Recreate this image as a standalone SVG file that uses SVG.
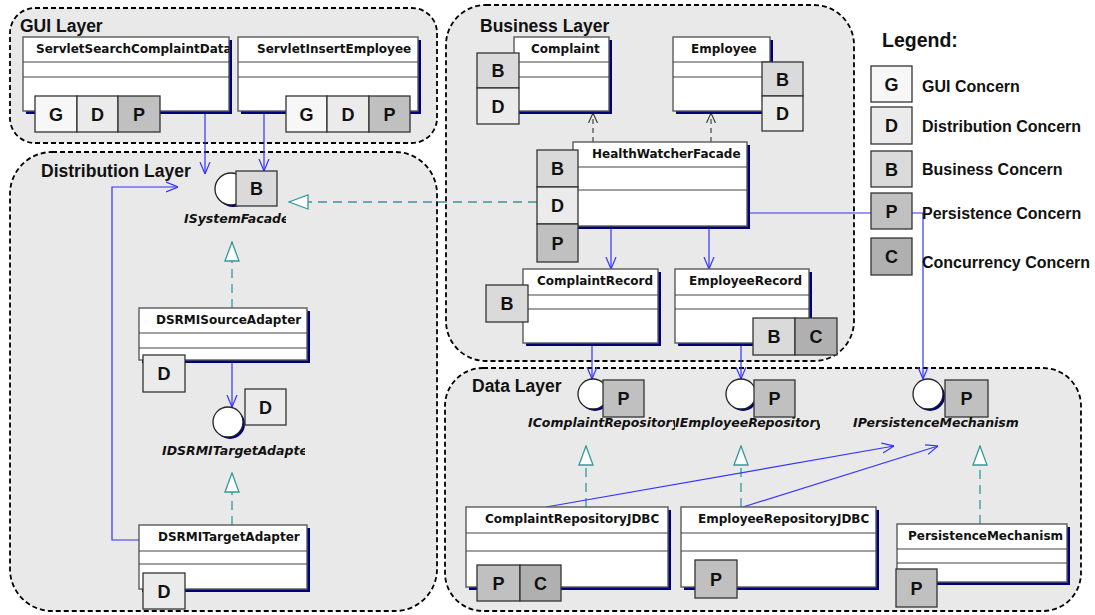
<svg xmlns="http://www.w3.org/2000/svg" width="1095" height="615" viewBox="0 0 1095 615">
<style>
.lay{fill:#e9e9e9;stroke:#000;stroke-width:1.8;stroke-dasharray:5,3}
.lt{font-family:"Liberation Sans",Arial,sans-serif;font-weight:bold;font-size:17.5px;fill:#111}
.sh{fill:#00007a}
.cb{fill:#fff;stroke:#5a5a5a;stroke-width:1.4}
.sep{stroke:#444;stroke-width:1.1}
.cn{font-family:"DejaVu Sans",Verdana,sans-serif;font-weight:bold;font-size:12px;fill:#111}
.k{stroke:#333;stroke-width:1.3}
.kt{font-family:"Liberation Sans",Arial,sans-serif;font-weight:bold;font-size:18px;fill:#111;text-anchor:middle}
.g{fill:#f7f7f7}.d{fill:#ebebeb}.b{fill:#dadada}.p{fill:#c0c0c0}.c{fill:#b0b0b0}
.ic{fill:#fff;stroke:#222;stroke-width:1.3}
.ish{fill:#00007a}
.il{font-family:"DejaVu Sans",Verdana,sans-serif;font-weight:bold;font-style:italic;font-size:12.5px;fill:#111}
.asc{fill:none;stroke:#3333ff;stroke-width:1.2}
.rea{fill:none;stroke:#339999;stroke-width:1.3;stroke-dasharray:9,6}
.dep{fill:none;stroke:#333;stroke-width:1.1;stroke-dasharray:5,4}
.leg{font-family:"Liberation Sans",Arial,sans-serif;font-weight:bold;font-size:16px;fill:#111}
</style>
<defs>
<marker id="aOpen" viewBox="0 0 12 12" refX="12" refY="6" markerWidth="12" markerHeight="12" markerUnits="userSpaceOnUse" orient="auto">
<path d="M0,1 L12,6 L0,11" fill="none" stroke="#3333ff" stroke-width="1.2"/>
</marker>
<marker id="aTri" viewBox="0 0 21 16" refX="20" refY="8" markerWidth="21" markerHeight="16" markerUnits="userSpaceOnUse" orient="auto">
<path d="M1,1 L20,8 L1,15 Z" fill="#fff" stroke="#339999" stroke-width="1.3"/>
</marker>
<marker id="aDep" viewBox="0 0 10 10" refX="10" refY="5" markerWidth="10" markerHeight="10" markerUnits="userSpaceOnUse" orient="auto">
<path d="M0,0.5 L10,5 L0,9.5" fill="none" stroke="#333" stroke-width="1.1"/>
</marker>
<clipPath id="cl1"><rect x="23" y="37" width="206" height="30"/></clipPath>
<clipPath id="cl2"><rect x="139" y="525" width="168" height="26"/></clipPath>
<clipPath id="cl3"><rect x="150" y="205" width="136" height="25"/></clipPath>
<clipPath id="cl4"><rect x="150" y="440" width="155" height="25"/></clipPath>
<clipPath id="cl5"><rect x="500" y="410" width="175" height="25"/></clipPath>
<clipPath id="cl6"><rect x="675" y="410" width="145" height="25"/></clipPath>
</defs>

<g id="layers">
<rect class="lay" x="10" y="8" width="427" height="135" rx="25"/>
<text class="lt" x="20" y="32">GUI Layer</text>
<rect class="lay" x="446" y="5" width="408" height="356" rx="40"/>
<text class="lt" x="480" y="32">Business Layer</text>
<rect class="lay" x="10" y="152" width="427" height="459" rx="42"/>
<text class="lt" x="41" y="177">Distribution Layer</text>
<rect class="lay" x="445" y="368" width="636" height="243" rx="38"/>
<text class="lt" x="472" y="392">Data Layer</text>
</g>

<g id="connectors">
<path class="asc" d="M205,111 V174" marker-end="url(#aOpen)"/>
<path class="asc" d="M264,111 V171" marker-end="url(#aOpen)"/>
<path class="asc" d="M139,540 H112 V187 H178" marker-end="url(#aOpen)"/>
<path class="rea" d="M537,202 H289" marker-end="url(#aTri)"/>
<path class="rea" d="M232,308 V242" marker-end="url(#aTri)"/>
<path class="asc" d="M232,360 V407" marker-end="url(#aOpen)"/>
<path class="rea" d="M232,525 V473" marker-end="url(#aTri)"/>
<path class="dep" d="M593,142 V113" marker-end="url(#aDep)"/>
<path class="dep" d="M711,142 V113" marker-end="url(#aDep)"/>
<path class="asc" d="M611,226 V269" marker-end="url(#aOpen)"/>
<path class="asc" d="M709,226 V269" marker-end="url(#aOpen)"/>
<path class="asc" d="M747,213 H923 V379" marker-end="url(#aOpen)"/>
<path class="asc" d="M592,343 V379" marker-end="url(#aOpen)"/>
<path class="asc" d="M741,343 V379" marker-end="url(#aOpen)"/>
<path class="rea" d="M586,507 V446" marker-end="url(#aTri)"/>
<path class="rea" d="M741,507 V446" marker-end="url(#aTri)"/>
<path class="rea" d="M980,524 V446" marker-end="url(#aTri)"/>
<path class="asc" d="M546,507 L894,446" marker-end="url(#aOpen)"/>
<path class="asc" d="M743,507 L938,446" marker-end="url(#aOpen)"/>
</g>

<g id="ServletSearchComplaintData">
<rect class="sh" x="26" y="40" width="206" height="74"/>
<rect class="cb" x="23" y="37" width="206" height="74"/>
<line class="sep" x1="23" y1="62" x2="229" y2="62"/><line class="sep" x1="23" y1="77" x2="229" y2="77"/>
<text class="cn" x="36" y="53" clip-path="url(#cl1)">ServletSearchComplaintData</text>
<rect class="k g" x="35" y="96" width="42" height="36"/><text class="kt" x="56" y="120.5">G</text>
<rect class="k d" x="77" y="96" width="41" height="36"/><text class="kt" x="97.5" y="120.5">D</text>
<rect class="k p" x="118" y="96" width="42" height="36"/><text class="kt" x="139" y="120.5">P</text>
</g>

<g id="ServletInsertEmployee">
<rect class="sh" x="241" y="40" width="180" height="74"/>
<rect class="cb" x="238" y="37" width="180" height="74"/>
<line class="sep" x1="238" y1="62" x2="418" y2="62"/><line class="sep" x1="238" y1="77" x2="418" y2="77"/>
<text class="cn" x="257" y="53">ServletInsertEmployee</text>
<rect class="k g" x="286" y="96" width="41" height="36"/><text class="kt" x="306.5" y="120.5">G</text>
<rect class="k d" x="327" y="96" width="42" height="36"/><text class="kt" x="348" y="120.5">D</text>
<rect class="k p" x="369" y="96" width="41" height="36"/><text class="kt" x="389.5" y="120.5">P</text>
</g>

<g id="Complaint">
<rect class="sh" x="517" y="40" width="95" height="74"/>
<rect class="cb" x="514" y="37" width="95" height="74"/>
<line class="sep" x1="514" y1="62" x2="609" y2="62"/><line class="sep" x1="514" y1="77" x2="609" y2="77"/>
<text class="cn" x="531" y="53">Complaint</text>
<rect class="k b" x="477" y="53" width="42" height="35"/><text class="kt" x="498" y="77">B</text>
<rect class="k d" x="477" y="88" width="42" height="36"/><text class="kt" x="498" y="112.5">D</text>
</g>

<g id="Employee">
<rect class="sh" x="676" y="40" width="97" height="74"/>
<rect class="cb" x="673" y="37" width="97" height="74"/>
<line class="sep" x1="673" y1="62" x2="770" y2="62"/><line class="sep" x1="673" y1="77" x2="770" y2="77"/>
<text class="cn" x="691" y="53">Employee</text>
<rect class="k b" x="762" y="62" width="41" height="34"/><text class="kt" x="782.5" y="85.5">B</text>
<rect class="k d" x="762" y="96" width="41" height="35"/><text class="kt" x="782.5" y="120">D</text>
</g>

<g id="HealthWatcherFacade">
<rect class="sh" x="576" y="145" width="174" height="84"/>
<rect class="cb" x="573" y="142" width="174" height="84"/>
<line class="sep" x1="573" y1="167" x2="747" y2="167"/><line class="sep" x1="573" y1="190" x2="747" y2="190"/>
<text class="cn" x="592" y="158">HealthWatcherFacade</text>
<rect class="k b" x="537" y="150" width="41" height="37"/><text class="kt" x="557.5" y="175">B</text>
<rect class="k d" x="537" y="187" width="41" height="37"/><text class="kt" x="557.5" y="212">D</text>
<rect class="k p" x="537" y="224" width="41" height="38"/><text class="kt" x="557.5" y="249.5">P</text>
</g>

<g id="ComplaintRecord">
<rect class="sh" x="526" y="272" width="135" height="74"/>
<rect class="cb" x="523" y="269" width="135" height="74"/>
<line class="sep" x1="523" y1="295" x2="658" y2="295"/><line class="sep" x1="523" y1="309" x2="658" y2="309"/>
<text class="cn" x="537" y="285">ComplaintRecord</text>
<rect class="k b" x="486" y="285" width="42" height="37"/><text class="kt" x="507" y="310">B</text>
</g>

<g id="EmployeeRecord">
<rect class="sh" x="678" y="272" width="134" height="74"/>
<rect class="cb" x="675" y="269" width="134" height="74"/>
<line class="sep" x1="675" y1="295" x2="809" y2="295"/><line class="sep" x1="675" y1="309" x2="809" y2="309"/>
<text class="cn" x="689" y="285">EmployeeRecord</text>
<rect class="k b" x="753" y="318" width="42" height="37"/><text class="kt" x="774" y="343">B</text>
<rect class="k c" x="795" y="318" width="42" height="37"/><text class="kt" x="816" y="343">C</text>
</g>

<g id="ISystemFacade">
<circle class="ish" cx="233" cy="191" r="16"/>
<circle class="ic" cx="231" cy="189" r="16"/>
<rect class="k b" x="236" y="171" width="41" height="35"/><text class="kt" x="256.5" y="195">B</text>
<text class="il" x="184" y="223" clip-path="url(#cl3)">ISystemFacade</text>
</g>

<g id="DSRMISourceAdapter">
<rect class="sh" x="142" y="311" width="168" height="52"/>
<rect class="cb" x="139" y="308" width="168" height="52"/>
<line class="sep" x1="139" y1="333" x2="307" y2="333"/><line class="sep" x1="139" y1="348" x2="307" y2="348"/>
<text class="cn" x="156" y="324">DSRMISourceAdapter</text>
<rect class="k d" x="143" y="355" width="42" height="37"/><text class="kt" x="164" y="380">D</text>
</g>

<g id="IDSRMITargetAdapter">
<circle class="ish" cx="230" cy="424" r="15"/>
<circle class="ic" cx="228" cy="422" r="15"/>
<rect class="k d" x="245" y="389" width="41" height="36"/><text class="kt" x="265.5" y="413.5">D</text>
<text class="il" x="162" y="455" clip-path="url(#cl4)">IDSRMITargetAdapter</text>
</g>

<g id="DSRMITargetAdapter">
<rect class="sh" x="142" y="528" width="168" height="64"/>
<rect class="cb" x="139" y="525" width="168" height="64"/>
<line class="sep" x1="139" y1="551" x2="307" y2="551"/><line class="sep" x1="139" y1="564" x2="307" y2="564"/>
<text class="cn" x="158" y="541" clip-path="url(#cl2)">DSRMITargetAdapter</text>
<rect class="k d" x="143" y="573" width="42" height="36"/><text class="kt" x="164" y="597.5">D</text>
</g>

<g id="IComplaintRepository">
<circle class="ish" cx="595" cy="396" r="15"/>
<circle class="ic" cx="593" cy="394" r="15"/>
<rect class="k p" x="603" y="380" width="41" height="37"/><text class="kt" x="623.5" y="405">P</text>
<text class="il" x="528" y="427" clip-path="url(#cl5)">IComplaintRepository</text>
</g>

<g id="IEmployeeRepository">
<circle class="ish" cx="743" cy="396" r="15"/>
<circle class="ic" cx="741" cy="394" r="15"/>
<rect class="k p" x="754" y="380" width="41" height="37"/><text class="kt" x="774.5" y="405">P</text>
<text class="il" x="675" y="427" clip-path="url(#cl6)">IEmployeeRepository</text>
</g>

<g id="IPersistenceMechanism">
<circle class="ish" cx="930" cy="396" r="15"/>
<circle class="ic" cx="928" cy="394" r="15"/>
<rect class="k p" x="945" y="380" width="43" height="37"/><text class="kt" x="966.5" y="405">P</text>
<text class="il" x="853" y="427">IPersistenceMechanism</text>
</g>

<g id="ComplaintRepositoryJDBC">
<rect class="sh" x="469" y="510" width="202" height="80"/>
<rect class="cb" x="466" y="507" width="202" height="80"/>
<line class="sep" x1="466" y1="533" x2="668" y2="533"/><line class="sep" x1="466" y1="551" x2="668" y2="551"/>
<text class="cn" x="485" y="523">ComplaintRepositoryJDBC</text>
<rect class="k p" x="477" y="565" width="43" height="36"/><text class="kt" x="498.5" y="589.5">P</text>
<rect class="k c" x="520" y="565" width="41" height="36"/><text class="kt" x="540.5" y="589.5">C</text>
</g>

<g id="EmployeeRepositoryJDBC">
<rect class="sh" x="684" y="510" width="195" height="80"/>
<rect class="cb" x="681" y="507" width="195" height="80"/>
<line class="sep" x1="681" y1="533" x2="876" y2="533"/><line class="sep" x1="681" y1="551" x2="876" y2="551"/>
<text class="cn" x="698" y="523">EmployeeRepositoryJDBC</text>
<rect class="k p" x="695" y="560" width="42" height="38"/><text class="kt" x="716" y="585.5">P</text>
</g>

<g id="PersistenceMechanism">
<rect class="sh" x="900" y="527" width="170" height="58"/>
<rect class="cb" x="897" y="524" width="170" height="58"/>
<line class="sep" x1="897" y1="549" x2="1067" y2="549"/><line class="sep" x1="897" y1="563" x2="1067" y2="563"/>
<text class="cn" x="908" y="540">PersistenceMechanism</text>
<rect class="k p" x="896" y="569" width="41" height="38"/><text class="kt" x="916.5" y="594.5">P</text>
</g>

<g id="legend">
<text x="882" y="47" font-family="Liberation Sans, Arial, sans-serif" font-weight="bold" font-size="19.5" fill="#111">Legend:</text>
<rect class="k g" x="871" y="66" width="41" height="36"/><text class="kt" x="891.5" y="90.5">G</text>
<text class="leg" x="922" y="91.5">GUI Concern</text>
<rect class="k d" x="871" y="107" width="41" height="37"/><text class="kt" x="891.5" y="132">D</text>
<text class="leg" x="922" y="131.5">Distribution Concern</text>
<rect class="k b" x="871" y="151" width="41" height="36"/><text class="kt" x="891.5" y="175.5">B</text>
<text class="leg" x="922" y="174.5">Business Concern</text>
<rect class="k p" x="871" y="193" width="41" height="36"/><text class="kt" x="891.5" y="217.5">P</text>
<text class="leg" x="922" y="218.5">Persistence Concern</text>
<rect class="k c" x="871" y="238" width="41" height="37"/><text class="kt" x="891.5" y="262.5">C</text>
<text class="leg" x="922" y="267.5">Concurrency Concern</text>
</g>
</svg>
